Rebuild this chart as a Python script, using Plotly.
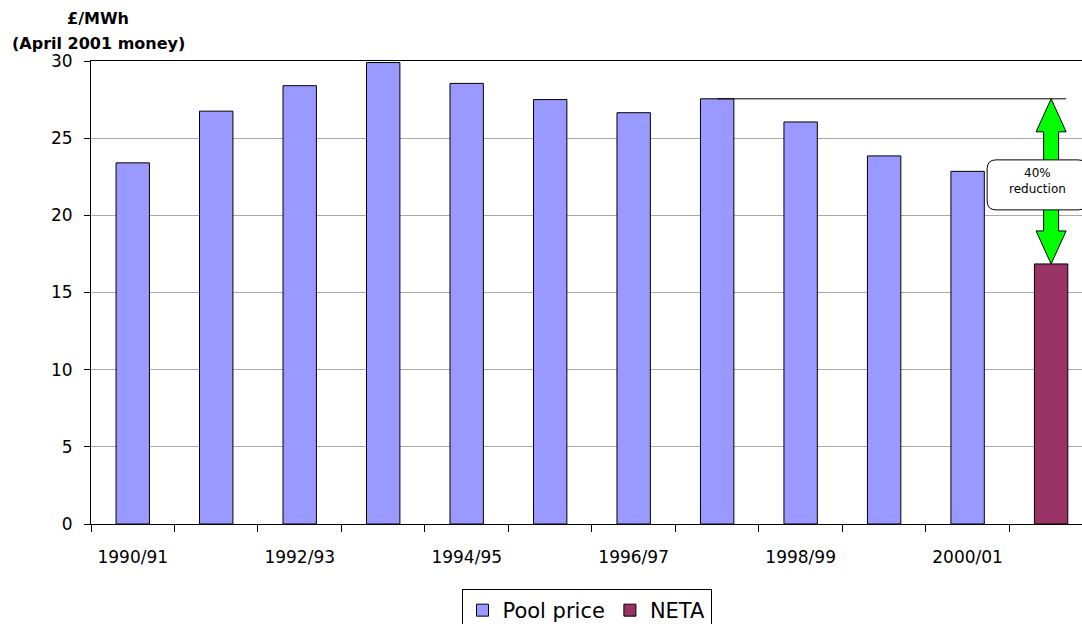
import plotly.graph_objects as go

# ---- data ----
years = ["1990/91", "1991/92", "1992/93", "1993/94", "1994/95", "1995/96",
         "1996/97", "1997/98", "1998/99", "1999/00", "2000/01", "2001/02"]
pool_price = [23.4, 26.75, 28.4, 29.9, 28.55, 27.5, 26.65, 27.55, 26.05, 23.85, 22.85]
neta_price = [16.85]
tick_labels = ["1990/91", "1992/93", "1994/95", "1996/97", "1998/99", "2000/01"]
reference_year = "1997/98"   # pool price compared with NETA
y_ticks = [0, 5, 10, 15, 20, 25, 30]

# ---- layout geometry ----
W, H = 1082, 624
ML, MR, MT, MB = 91, 0, 61, 100
plot_w = W - ML - MR
plot_h = H - MT - MB
x_range = [-0.5, 11.37]
y_range = [0, 30]
ux = (x_range[1] - x_range[0]) / plot_w   # data units per pixel (x)
uy = (y_range[1] - y_range[0]) / plot_h   # data units per pixel (y)

x_pool = list(range(len(pool_price)))
x_neta = [len(pool_price)]
tick_idx = [years.index(t) for t in tick_labels]

FONT = "DejaVu Sans, Verdana, sans-serif"

fig = go.Figure()
fig.add_trace(go.Bar(x=x_pool, y=pool_price, name="Pool price", width=0.4,
                     marker=dict(color="#9999FF", line=dict(color="#000000", width=1))))
fig.add_trace(go.Bar(x=x_neta, y=neta_price, name="NETA", width=0.4,
                     marker=dict(color="#993366", line=dict(color="#000000", width=1))))

# ---- 40% reduction arrow ----
ref_val = pool_price[years.index(reference_year)]
neta_val = neta_price[0]
xc = x_neta[0]
head_hw = 15 * ux
shaft_hw = 7.5 * ux
head_h = 33 * uy
path = (f"M {xc},{ref_val} "
        f"L {xc + head_hw},{ref_val - head_h} L {xc + shaft_hw},{ref_val - head_h} "
        f"L {xc + shaft_hw},{neta_val + head_h} L {xc + head_hw},{neta_val + head_h} "
        f"L {xc},{neta_val} "
        f"L {xc - head_hw},{neta_val + head_h} L {xc - shaft_hw},{neta_val + head_h} "
        f"L {xc - shaft_hw},{ref_val - head_h} L {xc - head_hw},{ref_val - head_h} Z")

# horizontal reference line from 1997/98 bar to the arrow
fig.add_shape(type="line", xref="x", yref="y",
              x0=years.index(reference_year), x1=xc + head_hw, y0=ref_val, y1=ref_val,
              line=dict(color="#000000", width=1), layer="above")
fig.add_shape(type="path", xref="x", yref="y", path=path,
              fillcolor="#00FF00", line=dict(color="#000000", width=1), layer="above")

# rounded label box
mid = (ref_val + neta_val) / 2
bx0 = xc + (-64) * ux
bx1 = xc + 36 * ux
by0 = mid - 25 * uy - 3.5 * uy
by1 = mid + 25 * uy - 3.5 * uy
rx, ry = 9 * ux, 9 * uy
box = (f"M {bx0 + rx},{by1} L {bx1 - rx},{by1} Q {bx1},{by1} {bx1},{by1 - ry} "
       f"L {bx1},{by0 + ry} Q {bx1},{by0} {bx1 - rx},{by0} "
       f"L {bx0 + rx},{by0} Q {bx0},{by0} {bx0},{by0 + ry} "
       f"L {bx0},{by1 - ry} Q {bx0},{by1} {bx0 + rx},{by1} Z")
fig.add_shape(type="path", xref="x", yref="y", path=box,
              fillcolor="#FFFFFF", line=dict(color="#000000", width=1), layer="above")
fig.add_annotation(x=xc, y=mid, xref="x", yref="y", xshift=-14, yshift=0,
                   text="40%<br>reduction", showarrow=False,
                   font=dict(family=FONT, size=12, color="#000000"))

# axis title (two lines, bold)
fig.add_annotation(x=(98 - ML) / plot_w, y=1 + (MT - 19) / plot_h, xref="paper", yref="paper",
                   text="<b>£/MWh</b>", showarrow=False, xanchor="center", yanchor="middle",
                   font=dict(family=FONT, size=16, color="#000000"))
fig.add_annotation(x=(98 - ML) / plot_w, y=1 + (MT - 43) / plot_h, xref="paper", yref="paper",
                   text="<b>(April 2001 money)</b>", showarrow=False, xanchor="center", yanchor="middle",
                   font=dict(family=FONT, size=16, color="#000000"))

fig.update_layout(
    width=W, height=H,
    margin=dict(l=ML, r=MR, t=MT, b=MB, pad=0, autoexpand=False),
    paper_bgcolor="#FFFFFF", plot_bgcolor="#FFFFFF",
    barmode="overlay",
    font=dict(family=FONT, color="#000000"),
    showlegend=True,
    legend=dict(orientation="h", x=0.5, xanchor="center", y=-(589 - (H - MB)) / plot_h,
                yanchor="top", bordercolor="#000000", borderwidth=1, bgcolor="#FFFFFF",
                font=dict(family=FONT, size=21, color="#000000"),
                itemclick=False, tracegroupgap=0),
    xaxis=dict(range=x_range, tickmode="array", tickvals=tick_idx, ticktext=tick_labels,
               ticks="", showgrid=False, zeroline=False, showline=True, mirror=True,
               linecolor="#000000", linewidth=1,
               tickfont=dict(family=FONT, size=17, color="#000000"),
               ticklabelstandoff=18,
               minor=dict(tickmode="linear", tick0=-0.5, dtick=1, ticks="outside",
                          ticklen=7, tickcolor="#000000", tickwidth=1, showgrid=False)),
    yaxis=dict(range=y_range, tickmode="array", tickvals=y_ticks,
               ticks="outside", ticklen=6, tickcolor="#000000", tickwidth=1,
               showgrid=True, gridcolor="#A8A8A8", gridwidth=1, zeroline=False,
               showline=True, linecolor="#000000", linewidth=1,
               tickfont=dict(family=FONT, size=17, color="#000000"),
               ticklabelstandoff=8),
)

fig.write_html("out.html", config={"displayModeBar": False},
               post_script="document.body.style.margin='0';document.body.style.overflow='hidden';")
